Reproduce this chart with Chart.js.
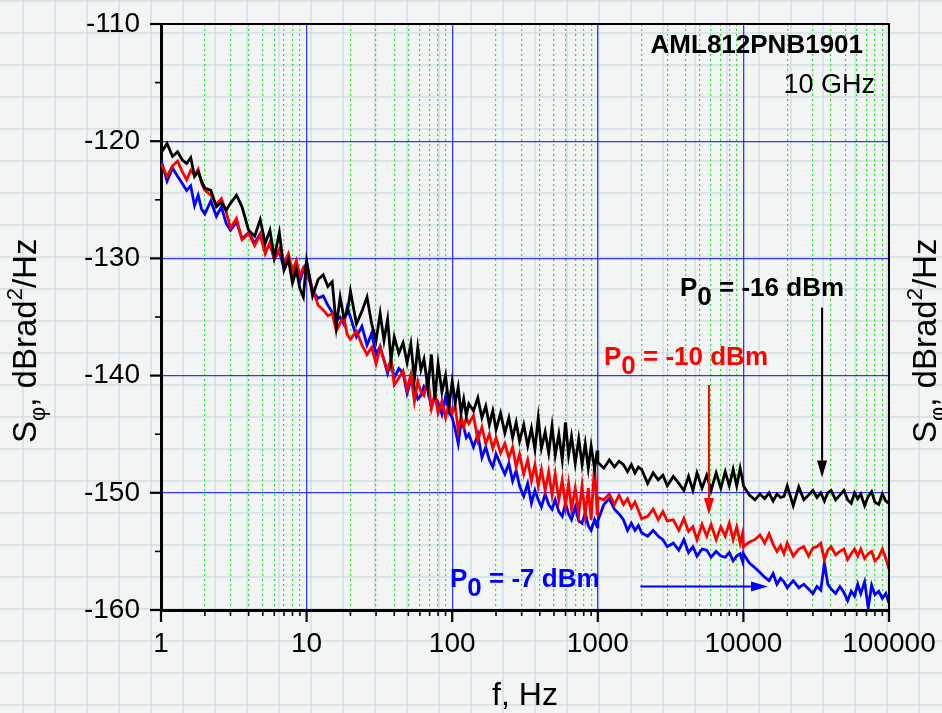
<!DOCTYPE html>
<html>
<head>
<meta charset="utf-8">
<title>Phase noise</title>
<script src="https://cdn.jsdelivr.net/npm/chart.js@4.4.1/dist/chart.umd.min.js"></script>
<style>
    html, body { margin: 0; padding: 0; }
    body {
        width: 942px;
        height: 713px;
        overflow: hidden;
        background-color: #f3f4f4;
        /* graph paper behind the figure */
        background-image:
            linear-gradient(to right, rgba(186, 210, 226, 0.45) 2px, transparent 2px),
            linear-gradient(to bottom, rgba(186, 210, 226, 0.45) 2px, transparent 2px);
        background-size: 32px 32px;
        background-position: 22px 0px;
    }
    #wrap { position: relative; width: 942px; height: 713px; }
</style>
</head>
<body>
<div id="wrap"><canvas id="noiseChart"></canvas></div>
<script>
const FONT = '"Liberation Sans", Arial, Helvetica, sans-serif';

// Offset frequency, Hz
const freqHz = [
    1, 1.1, 1.2, 1.3, 1.4, 1.5, 1.6, 1.7, 1.8, 1.9, 2, 2.2, 2.4, 2.6, 2.8, 3, 3.3, 3.6, 4, 4.4, 4.8, 5.2, 5.6, 6, 6.5, 7, 7.5, 8, 8.5, 9, 9.5,
    10, 11, 12, 13, 14, 15, 16, 17, 18, 19, 20, 22, 24, 26, 28, 30, 32, 34, 36, 38, 40, 43, 46, 49, 52, 55, 58, 61, 64, 68, 72, 76, 80, 85, 90, 95,
    100, 105, 110, 115, 120, 125, 130, 140, 150, 160, 170, 180, 190, 200, 215, 230, 245, 260, 275, 290, 310, 330, 350, 370, 390, 410, 435, 460, 485, 510, 540, 570, 600, 630, 660, 700, 740, 780, 820, 860, 900, 950, 990,
    1000, 1100, 1200, 1300, 1400, 1500, 1600, 1700, 1800, 1900, 2000, 2200, 2400, 2600, 2800, 3000, 3300, 3600, 3900, 4200, 4500, 4800, 5200, 5600, 6000, 6500, 7000, 7500, 8000, 8500, 9000, 9500, 9900,
    10000, 11000, 12000, 13000, 14000, 15000, 16000, 17000, 18000, 19000, 20000, 22000, 24000, 26000, 28000, 30000, 32000, 34000, 36000, 38000, 40000, 43000, 46000, 49000, 52000, 55000, 58000, 61000, 64000, 68000, 72000, 76000, 80000, 85000, 90000, 95000, 100000
];

// S_phi at P0 = -16 dBm, dBrad^2/Hz
const psdM16 = [
    -121.0, -120.2, -121.3, -120.9, -121.6, -121.9, -121.4, -123.0, -122.6, -123.4, -124.0, -124.2, -125.6, -125.2, -125.9, -125.3, -124.6, -125.6, -127.6, -128.1, -126.7, -128.7, -127.6, -129.9, -127.8, -131.0, -130.1, -132.1, -131.0, -132.6, -133.3,
    -130.2, -133.2, -131.8, -131.4, -132.4, -132.0, -135.8, -133.3, -135.0, -134.7, -132.8, -135.6, -134.5, -133.3, -135.6, -137.0, -134.7, -137.0, -135.2, -138.7, -136.7, -138.1, -137.2, -138.9, -137.3, -140.3, -137.6, -139.5, -138.6, -141.0, -138.2, -142.0, -139.0, -141.4, -140.0, -142.6,
    -140.5, -142.3, -141.0, -143.2, -142.0, -143.4, -142.4, -143.0, -141.9, -143.6, -142.6, -144.2, -143.0, -144.6, -143.2, -144.9, -143.6, -145.3, -144.0, -145.6, -144.2, -146.0, -144.5, -146.3, -143.6, -146.2, -144.8, -146.6, -144.3, -146.8, -145.0, -147.2, -144.0, -146.8, -145.2, -147.5, -145.4, -147.6, -145.8, -147.9, -146.0, -148.0, -146.4,
    -147.4, -147.9, -147.2, -147.8, -147.3, -147.6, -148.2, -147.6, -148.3, -147.8, -148.0, -149.2, -148.3, -148.9, -148.5, -149.4, -148.6, -149.2, -149.8, -148.6, -149.8, -148.3, -149.6, -148.5, -149.8, -148.3, -149.6, -148.2, -149.4, -148.0, -149.4, -147.9, -149.0,
    -149.4, -150.2, -150.6, -150.1, -150.5, -150.0, -150.7, -150.1, -150.4, -150.3, -149.4, -151.1, -149.5, -150.6, -150.2, -149.8, -150.4, -150.0, -150.7, -150.0, -149.8, -150.6, -150.2, -149.8, -150.6, -150.9, -150.0, -150.5, -150.1, -151.1, -150.3, -149.9, -150.8, -151.0, -150.1, -150.7, -150.9
];

// S_phi at P0 = -10 dBm
const psdM10 = [
    -121.9, -123.0, -122.1, -121.7, -122.6, -123.3, -122.5, -122.9, -122.4, -123.6, -124.2, -124.6, -125.4, -124.9, -126.0, -127.4, -126.6, -128.4, -127.9, -128.9, -128.0, -129.6, -128.6, -130.1, -129.2, -130.4, -129.6, -131.1, -130.2, -131.5, -130.8,
    -131.3, -132.6, -134.0, -134.4, -134.9, -134.7, -136.2, -135.5, -135.0, -136.5, -136.9, -136.2, -137.4, -138.2, -137.6, -139.0, -137.6, -138.7, -139.5, -138.6, -140.8, -140.2, -139.6, -141.2, -139.9, -142.2, -140.5, -141.4, -141.7, -140.2, -142.8, -141.6, -143.2, -142.2, -143.6, -142.4,
    -143.2, -142.6, -144.7, -143.5, -144.4, -143.6, -144.1, -143.4, -145.5, -144.4, -145.8, -145.0, -146.2, -145.3, -146.6, -145.8, -147.0, -146.1, -147.8, -146.7, -148.4, -147.2, -149.0, -147.6, -149.4, -148.0, -149.8, -148.2, -150.2, -148.4, -150.6, -148.9, -151.1, -149.2, -151.4, -149.6, -151.8, -149.4, -152.0, -149.6, -152.3, -147.6, -151.8,
    -150.4, -150.6, -150.1, -151.0, -150.2, -151.0, -150.5, -151.3, -150.8, -151.5, -152.2, -152.0, -151.4, -152.3, -151.6, -152.4, -152.3, -153.2, -152.2, -153.3, -152.9, -154.0, -152.7, -153.7, -152.7, -154.0, -152.9, -153.7, -152.6, -154.0, -152.9, -154.3, -153.4,
    -154.6, -154.2, -154.0, -153.6, -154.3, -153.5, -154.4, -155.0, -154.5, -155.2, -154.3, -155.4, -154.8, -154.6, -155.4, -154.7, -154.6, -154.3, -155.7, -154.9, -154.6, -155.3, -155.0, -154.8, -155.7, -155.2, -154.8, -155.4, -154.8, -155.6, -155.2, -155.0, -155.8, -155.5, -154.8, -155.6, -156.5
];

// S_phi at P0 = -7 dBm
const psdM7 = [
    -121.6, -123.4, -122.3, -123.0, -123.6, -124.2, -123.8, -125.5, -124.6, -125.8, -126.2, -125.1, -126.4, -125.6, -127.0, -127.6, -126.9, -128.3, -127.8, -128.7, -127.9, -129.4, -128.8, -130.0, -129.4, -130.9, -130.0, -131.3, -130.6, -131.9, -131.0,
    -130.4, -132.8, -133.4, -133.2, -134.0, -134.6, -135.3, -135.0, -135.6, -134.2, -135.0, -136.7, -135.8, -137.4, -136.4, -138.2, -137.5, -138.7, -139.8, -138.7, -140.2, -139.4, -139.8, -141.5, -140.4, -141.0, -142.0, -141.7, -140.9, -141.2, -142.7, -141.8, -142.3, -143.3, -141.8, -143.0,
    -143.6, -144.6, -145.8, -144.0, -144.4, -145.3, -145.0, -146.1, -145.0, -147.0, -146.1, -147.2, -147.8, -146.7, -147.6, -148.4, -147.5, -149.0, -148.1, -149.4, -150.3, -149.2, -150.9, -149.8, -150.6, -151.2, -150.1, -151.0, -151.4, -150.6, -151.6, -152.0, -150.9, -151.8, -152.3, -151.2, -152.4, -152.6, -151.7, -152.8, -153.2, -152.3, -152.9,
    -152.4, -151.0, -150.5, -151.4, -151.8, -152.3, -153.2, -152.6, -153.2, -152.8, -153.4, -153.7, -153.2, -153.7, -154.0, -154.6, -154.3, -154.9, -154.0, -155.1, -154.6, -155.4, -154.8, -154.9, -155.5, -155.0, -155.4, -155.5, -155.1, -155.8, -155.4, -155.2, -155.9,
    -155.2, -156.0, -156.4, -156.8, -157.2, -157.5, -156.9, -157.8, -157.3, -157.6, -158.1, -157.5, -158.1, -157.8, -158.2, -158.6, -158.0, -158.3, -156.0, -157.8, -158.2, -158.6, -158.0, -158.5, -159.2, -158.4, -158.8, -157.8, -158.6, -157.6, -159.8, -157.9, -158.7, -158.4, -159.0, -158.6, -159.4
];

// Axis ticks: decades labelled, the rest are minor
const freqTicks = [
    1, 2, 3, 4, 5, 6, 7, 8, 9,
    10, 20, 30, 40, 50, 60, 70, 80, 90,
    100, 200, 300, 400, 500, 600, 700, 800, 900,
    1000, 2000, 3000, 4000, 5000, 6000, 7000, 8000, 9000,
    10000, 20000, 30000, 40000, 50000, 60000, 70000, 80000, 90000,
    100000
];
const psdTicks = [-160, -155, -150, -145, -140, -135, -130, -125, -120, -115, -110];

const deviceName = 'AML812PNB1901';
const carrierText = '10 GHz';
const powerText = ['-16 dBm', '-10 dBm', '-7 dBm'];

function isDecade(v) {
    const e = Math.log10(v);
    return Math.abs(e - Math.round(e)) < 1e-6;
}

function isMajorDb(v) {
    return Math.abs(v % 10) < 1e-6;
}

function drawArrow(ctx, x0, y0, x1, y1, color) {
    const ang = Math.atan2(y1 - y0, x1 - x0);
    const c = Math.cos(ang), s = Math.sin(ang);
    const head = 17, half = 5;
    ctx.strokeStyle = color;
    ctx.fillStyle = color;
    ctx.lineWidth = 2;
    ctx.beginPath();
    ctx.moveTo(x0, y0);
    ctx.lineTo(x1 - head * c, y1 - head * s);
    ctx.stroke();
    ctx.beginPath();
    ctx.moveTo(x1, y1);
    ctx.lineTo(x1 - head * c + half * s, y1 - head * s - half * c);
    ctx.lineTo(x1 - head * c - half * s, y1 - head * s + half * c);
    ctx.closePath();
    ctx.fill();
}

function drawPowerLabel(ctx, px, py, value, color) {
    ctx.fillStyle = color;
    ctx.font = 'bold 26px ' + FONT;
    ctx.textAlign = 'left';
    ctx.textBaseline = 'alphabetic';
    ctx.fillText('P', px, py);
    let cx = px + ctx.measureText('P').width;
    ctx.fillText('0', cx, py + 9);
    cx += ctx.measureText('0').width;
    ctx.fillText(' = ' + value, cx, py);
}

// Rotated "S_phi, dBrad^2/Hz", reading bottom to top
function drawYTitle(ctx, baseX, startY) {
    const big = '33px ' + FONT;
    const small = '22px ' + FONT;
    const parts = [
        { t: 'S', f: big, dy: 0 },
        { t: '\u03C6', f: small, dy: 9 },
        { t: ', dBrad', f: big, dy: 0 },
        { t: '2', f: small, dy: -14 },
        { t: '/Hz', f: big, dy: 0 }
    ];
    ctx.save();
    ctx.translate(baseX, startY);
    ctx.rotate(-Math.PI / 2);
    ctx.fillStyle = '#000';
    ctx.textAlign = 'left';
    ctx.textBaseline = 'alphabetic';
    let cx = 0;
    parts.forEach(p => {
        ctx.font = p.f;
        ctx.fillText(p.t, cx, p.dy);
        cx += ctx.measureText(p.t).width;
    });
    ctx.restore();
}

const plotDecor = {
    id: 'plotDecor',
    afterDraw(chart) {
        const { ctx, chartArea: a, scales: { x, y } } = chart;
        ctx.save();

        // top and right edges of the frame
        ctx.strokeStyle = '#000';
        ctx.lineWidth = 2;
        ctx.beginPath();
        ctx.moveTo(a.left, a.top);
        ctx.lineTo(a.right, a.top);
        ctx.lineTo(a.right, a.bottom);
        ctx.stroke();

        // outward tick marks
        x.ticks.forEach(t => {
            const px = x.getPixelForValue(t.value);
            const major = isDecade(t.value);
            ctx.lineWidth = major ? 2.2 : 1.6;
            ctx.beginPath();
            ctx.moveTo(px, a.bottom);
            ctx.lineTo(px, a.bottom + (major ? 12 : 6));
            ctx.stroke();
        });
        y.ticks.forEach(t => {
            const py = y.getPixelForValue(t.value);
            const major = isMajorDb(t.value);
            ctx.lineWidth = major ? 2.2 : 1.6;
            ctx.beginPath();
            ctx.moveTo(a.left - (major ? 11 : 6), py);
            ctx.lineTo(a.left, py);
            ctx.stroke();
        });

        // y titles, the right one runs off the page
        const yc = (a.top + a.bottom) / 2;
        drawYTitle(ctx, 36, yc + 126);
        drawYTitle(ctx, 936, yc + 126);

        // device and carrier
        ctx.fillStyle = '#000';
        ctx.textAlign = 'right';
        ctx.textBaseline = 'alphabetic';
        ctx.font = 'bold 26px ' + FONT;
        ctx.fillText(deviceName, x.getPixelForValue(66300), y.getPixelForValue(-112.5));
        ctx.font = '27px ' + FONT;
        ctx.fillText(carrierText, x.getPixelForValue(80200), y.getPixelForValue(-115.9));

        // power labels with their arrows
        drawPowerLabel(ctx, x.getPixelForValue(3670), y.getPixelForValue(-133.2), powerText[0], '#000000');
        drawArrow(ctx, x.getPixelForValue(34700), y.getPixelForValue(-134.2),
            x.getPixelForValue(34700), y.getPixelForValue(-148.7), '#000000');

        drawPowerLabel(ctx, x.getPixelForValue(1103), y.getPixelForValue(-139.1), powerText[1], '#ff0000');
        drawArrow(ctx, x.getPixelForValue(5800), y.getPixelForValue(-140.8),
            x.getPixelForValue(5800), y.getPixelForValue(-151.9), '#ff0000');

        drawPowerLabel(ctx, x.getPixelForValue(96.6), y.getPixelForValue(-158.0), powerText[2], '#0000ff');
        drawArrow(ctx, x.getPixelForValue(1960), y.getPixelForValue(-158.0),
            x.getPixelForValue(14750), y.getPixelForValue(-158.0), '#0000ff');

        ctx.restore();
    }
};

function series(values, color) {
    return {
        data: freqHz.map((f, i) => ({ x: f, y: values[i] })),
        borderColor: color,
        backgroundColor: color,
        borderWidth: 2.8,
        pointRadius: 0,
        tension: 0,
        fill: false
    };
}

const tickFont = { family: FONT, size: 28 };

new Chart(document.getElementById('noiseChart'), {
    type: 'line',
    data: {
        // first dataset is drawn on top
        datasets: [
            series(psdM16, '#000000'),
            series(psdM10, '#ff0000'),
            series(psdM7, '#0000ff')
        ]
    },
    options: {
        responsive: true,
        maintainAspectRatio: false,
        animation: false,
        layout: { padding: 0 },
        plugins: {
            legend: { display: false },
            tooltip: { enabled: false }
        },
        scales: {
            x: {
                type: 'logarithmic',
                min: 1,
                max: 100000,
                afterBuildTicks: scale => {
                    scale.ticks = freqTicks.map(v => ({ value: v }));
                },
                afterFit: scale => {
                    // fixed box so the plot area lands where it should
                    scale.height = 103;
                    scale.paddingLeft = 0;
                    scale.paddingRight = 53;
                },
                border: {
                    display: true,
                    color: '#000',
                    width: 3,
                    dash: ctx => (ctx.tick && !isDecade(ctx.tick.value)) ? [2, 3] : []
                },
                grid: {
                    drawTicks: false,
                    color: ctx => (ctx.tick && isDecade(ctx.tick.value)) ? 'rgba(20, 20, 255, 0.85)' : 'rgba(0, 235, 0, 0.9)',
                    lineWidth: ctx => (ctx.tick && isDecade(ctx.tick.value)) ? 1.3 : 1.2
                },
                ticks: {
                    autoSkip: false,
                    maxRotation: 0,
                    padding: 17,
                    color: '#000',
                    font: tickFont,
                    callback: v => isDecade(v) ? String(Math.round(v)) : ''
                },
                title: {
                    display: true,
                    text: 'f, Hz',
                    color: '#000',
                    font: { family: FONT, size: 32, lineHeight: 1.05 },
                    padding: 0
                }
            },
            y: {
                type: 'linear',
                min: -160,
                max: -110,
                afterBuildTicks: scale => {
                    scale.ticks = psdTicks.map(v => ({ value: v }));
                },
                afterFit: scale => {
                    scale.width = 161;
                    scale.paddingTop = 24;
                    scale.paddingBottom = 0;
                },
                border: { display: true, color: '#000', width: 3 },
                grid: {
                    drawTicks: false,
                    color: ctx => (ctx.tick && isMajorDb(ctx.tick.value)) ? 'rgba(20, 20, 255, 0.85)' : 'rgba(0, 0, 0, 0)',
                    lineWidth: 1.3
                },
                ticks: {
                    autoSkip: false,
                    padding: 21,
                    color: '#000',
                    font: tickFont,
                    callback: v => isMajorDb(v) ? String(v) : ''
                }
            }
        }
    },
    plugins: [plotDecor]
});
</script>
</body>
</html>
